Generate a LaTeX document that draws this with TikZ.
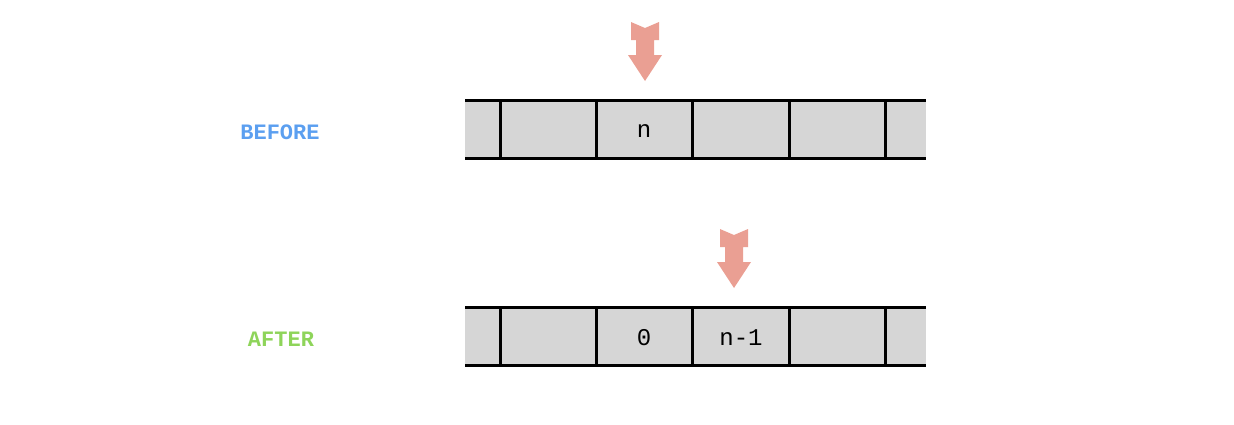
\documentclass[tikz,border=0pt]{standalone}
\usepackage{fontspec}
\setmonofont{Liberation Mono}
\definecolor{arr}{HTML}{EA9F93}
\definecolor{cellg}{HTML}{D6D6D6}
\definecolor{blu}{HTML}{5B9FF0}
\definecolor{grn}{HTML}{8ED45A}
\tikzset{
 lbl/.style={font=\ttfamily\bfseries\fontsize{22}{24}\selectfont},
 celltxt/.style={font=\ttfamily\fontsize{24}{26}\selectfont},
 bar/.style={line width=3pt},
 divider/.style={line width=3pt}
}
\newcommand{\myarrow}[2]{% center x, top y
 \fill[arr] (#1-14,#2) -- (#1,#2+6) -- (#1+14,#2) -- (#1+14,#2+18) -- (#1+9,#2+18) -- (#1+9,#2+33) -- (#1+17,#2+33) -- (#1,#2+59) -- (#1-17,#2+33) -- (#1-9,#2+33) -- (#1-9,#2+18) -- (#1-14,#2+18) -- cycle;}
\newcommand{\mystrip}[1]{% top y
 \fill[cellg] (465,#1) rectangle (926,#1+58);
 \draw[bar] (465,#1) -- (926,#1);
 \draw[bar] (465,#1+58) -- (926,#1+58);
 \foreach \xx in {500,596,692,789,885} \draw[divider] (\xx,#1) -- (\xx,#1+58);}
\begin{document}
\begin{tikzpicture}[x=1pt,y=-1pt]
\useasboundingbox (0,0) rectangle (1234,424);
\myarrow{645}{22}
\mystrip{100}
\node[lbl,text=blu] (before) at (280,132) {BEFORE};
\node[celltxt] (cn) at (644,131) {n};
\myarrow{734}{229}
\mystrip{307}
\node[lbl,text=grn] (after) at (281,339) {AFTER};
\node[celltxt] (c0) at (644,338) {0};
\node[celltxt] (c1) at (741,338) {n-1};
\end{tikzpicture}
\end{document}
